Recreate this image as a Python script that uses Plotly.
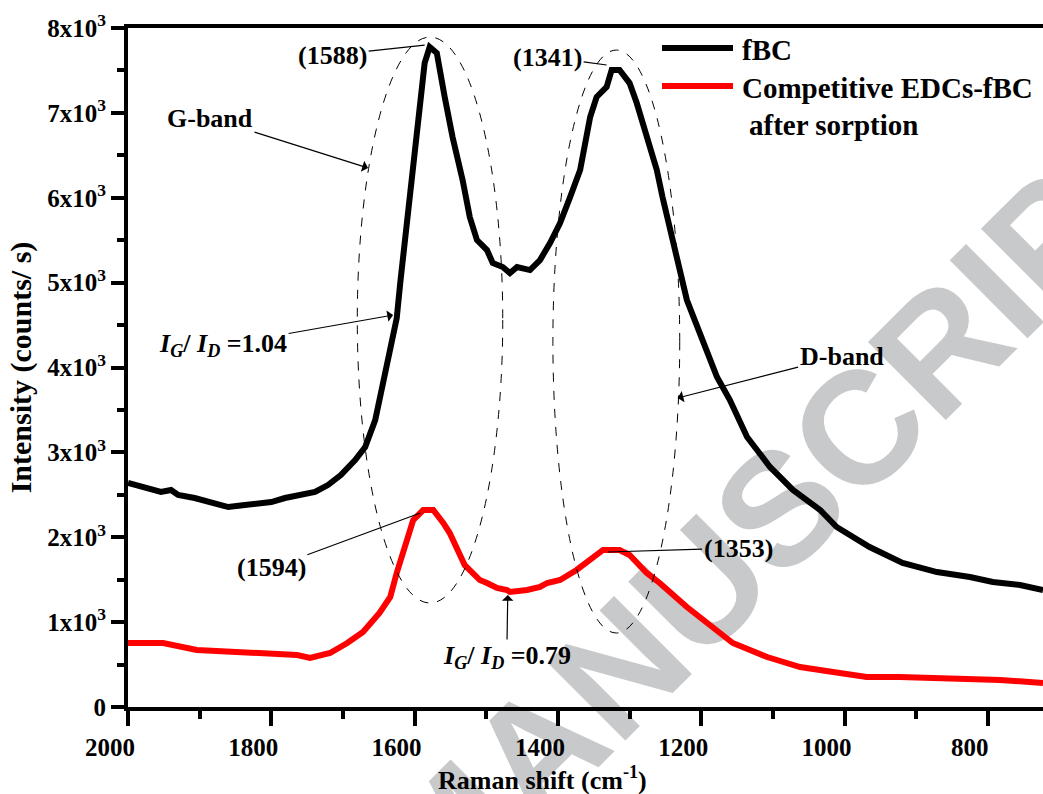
import plotly.graph_objects as go

# ---------------- data ----------------
fbc_x = [2000, 1976, 1954, 1940, 1930, 1907, 1884, 1860, 1837, 1814, 1800, 1781, 1759, 1739,
         1721, 1703, 1683, 1669, 1655, 1644, 1634, 1625, 1620, 1607, 1595, 1586, 1579, 1569,
         1558, 1547, 1533, 1523, 1513, 1499, 1491, 1477, 1467, 1457, 1439, 1425, 1411, 1397,
         1383, 1369, 1355, 1346, 1332, 1325, 1314, 1300, 1290, 1276, 1262, 1254, 1237, 1220,
         1202, 1178, 1160, 1136, 1104, 1072, 1034, 1011, 965, 919, 871, 825, 793, 755, 723]
fbc_y = [2639, 2592, 2533, 2557, 2498, 2462, 2415, 2356, 2380, 2403, 2415, 2462, 2498, 2533,
         2615, 2733, 2910, 3063, 3381, 3852, 4241, 4580, 5000, 6008, 6998, 7587, 7776, 7705,
         7187, 6715, 6209, 5773, 5502, 5384, 5231, 5184, 5113, 5184, 5148, 5266, 5467, 5702,
         6008, 6327, 6951, 7187, 7305, 7505, 7505, 7351, 7116, 6715, 6327, 6008, 5400, 4795,
         4406, 3888, 3617, 3181, 2828, 2557, 2321, 2121, 1885, 1697, 1590, 1532, 1473, 1437, 1378]

edc_x = [2000, 1951, 1904, 1834, 1764, 1746, 1718, 1694, 1672, 1649, 1634, 1625, 1602, 1588,
         1574, 1560, 1551, 1530, 1509, 1499, 1485, 1471, 1467, 1443, 1425, 1415, 1397, 1374,
         1355, 1337, 1314, 1300, 1276, 1258, 1220, 1184, 1156, 1108, 1062, 1016, 969, 923,
         877, 829, 783, 723]
edc_y = [754, 754, 672, 636, 613, 577, 636, 754, 884, 1107, 1296, 1579, 2203, 2321,
         2321, 2168, 2050, 1670, 1496, 1461, 1402, 1378, 1355, 1378, 1414, 1461, 1496, 1614,
         1732, 1850, 1850, 1791, 1579, 1461, 1178, 943, 754, 589, 471, 412, 353, 353,
         342, 342, 318, 283]

x_tickvals = [2000, 1800, 1600, 1400, 1200, 1000, 800]
y_tickvals = [0, 1000, 2000, 3000, 4000, 5000, 6000, 7000, 8000]
y_ticktext = ["0"] + [f"{i}x10<sup>3</sup>" for i in range(1, 9)]

series_names = ["fBC", "Competitive EDCs-fBC", " after sorption"]
x_title = "Raman shift (cm<sup>-1</sup>)"
y_title = "Intensity (counts/ s)"

# ---------------- figure ----------------
FONT = "Times New Roman, Liberation Serif, serif"
fig = go.Figure()

# watermark (drawn beneath everything)
fig.add_shape(type="rect", xref="paper", yref="paper", x0=0.7005, x1=0.7005, y0=0.3093, y1=0.3093,
              line=dict(width=0, color="rgba(0,0,0,0)"), fillcolor="rgba(0,0,0,0)", layer="below",
              label=dict(text="<b>MANUSCRIPT</b>", textangle=-45, textposition="middle center",
                         font=dict(family="Liberation Sans, Arial, sans-serif", size=160,
                                   color="#c8c9cb", weight="bold")))

fig.add_trace(go.Scatter(x=fbc_x, y=fbc_y, mode="lines", name=series_names[0],
                         line=dict(color="black", width=6), showlegend=False))
fig.add_trace(go.Scatter(x=edc_x, y=edc_y, mode="lines", name=series_names[1],
                         line=dict(color="#ff0000", width=6), showlegend=False))

# dashed ellipses around G and D bands
fig.add_shape(type="circle", xref="x", yref="y", x0=1680, x1=1477, y0=1225, y1=7893,
              line=dict(color="black", width=1, dash="dash"))
fig.add_shape(type="circle", xref="x", yref="y", x0=1407, x1=1230, y0=872, y1=7740,
              line=dict(color="black", width=1, dash="dash"))

afont = dict(family=FONT, size=26, color="black", weight="bold")

def note(text, x, y, ax, ay, head):
    fig.add_annotation(x=x, y=y, ax=ax, ay=ay, text=text, showarrow=True,
                       arrowhead=head, arrowsize=1.6, arrowwidth=1.2, arrowcolor="black",
                       standoff=0, font=afont)

note("(1588)", 1586, 7799, -92, 10, 0)
note("(1341)", 1332, 7564, -59, -8, 0)
note("G-band", 1665, 6350, -158, -50, 1)
note("<i>I</i><sub><i>G</i></sub>/ <i>I</i><sub><i>D</i></sub> =1.04", 1630, 4618, -170, 30, 1)
note("(1594)", 1592, 2286, -149, 55, 0)
note("(1353)", 1330, 1826, 130, -4, 0)
note("<i>I</i><sub><i>G</i></sub>/ <i>I</i><sub><i>D</i></sub> =0.79", 1470, 1320, -1, 62, 1)
note("D-band", 1233, 3640, 164, -42, 1)

# legend (manual, to match long line samples)
fig.add_shape(type="line", xref="paper", yref="paper", x0=0.5836, x1=0.6612, y0=0.9706, y1=0.9706,
              line=dict(color="black", width=6))
fig.add_shape(type="line", xref="paper", yref="paper", x0=0.5836, x1=0.6612, y0=0.9146, y1=0.9146,
              line=dict(color="#ff0000", width=6))
lfont = dict(family=FONT, size=29, color="black", weight="bold")
fig.add_annotation(xref="paper", yref="paper", x=0.6689, y=0.9676, xanchor="left", yanchor="middle",
                   text=series_names[0], showarrow=False, font=lfont)
fig.add_annotation(xref="paper", yref="paper", x=0.6689, y=0.9116, xanchor="left", yanchor="middle",
                   text=series_names[1], showarrow=False, font=lfont)
fig.add_annotation(xref="paper", yref="paper", x=0.6765, y=0.857, xanchor="left", yanchor="middle",
                   text=series_names[2].strip(), showarrow=False, font=lfont)

# x-axis title (placed as in the reference, left of the plot centre)
fig.add_annotation(xref="paper", yref="paper", x=0.4525, y=-0.1046, xanchor="center", yanchor="middle",
                   text=x_title, showarrow=False, font=dict(family=FONT, size=26, weight="bold"))

fig.update_layout(
    width=1043, height=794,
    margin=dict(l=128, r=0, t=28, b=87),
    paper_bgcolor="white", plot_bgcolor="white",
    font=dict(family=FONT, size=25, color="black", weight="bold"),
    showlegend=False,
)
fig.update_xaxes(range=[2000, 723], tickvals=x_tickvals, ticks="outside", ticklen=15, tickwidth=3.5,
                 tickcolor="black", showline=True, linewidth=4, linecolor="black", mirror=True,
                 showgrid=False, zeroline=False, ticklabelshift=18,
                 minor=dict(dtick=100, tick0=0, ticks="outside", ticklen=8, tickwidth=3.5, tickcolor="black"),
                 tickfont=dict(family=FONT, size=25, weight="bold"))
fig.update_yaxes(range=[0, 8000], tickvals=y_tickvals, ticktext=y_ticktext, ticks="outside", ticklen=13,
                 tickwidth=3.5, tickcolor="black", showline=True, linewidth=4, linecolor="black",
                 mirror=False, showgrid=False, zeroline=False,
                 minor=dict(dtick=500, tick0=0, ticks="outside", ticklen=7, tickwidth=3.5, tickcolor="black"),
                 title=dict(text=y_title, font=dict(family=FONT, size=30, weight="bold"), standoff=8),
                 tickfont=dict(family=FONT, size=25, weight="bold"))

fig.write_html("out.html")
